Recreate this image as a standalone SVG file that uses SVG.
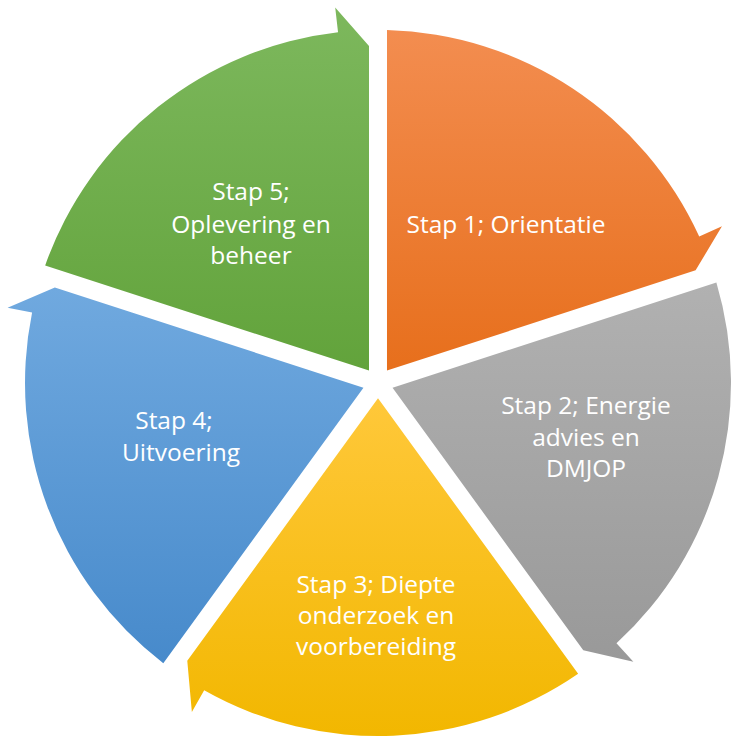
<svg xmlns="http://www.w3.org/2000/svg" width="732" height="743" viewBox="0 0 732 743">
  <style>
    .lbl { font-family: "Open Sans", "Liberation Sans", sans-serif; font-size: 24.5px; fill: #FFFFFF; text-anchor: middle; }
  </style>
  <defs>
    <linearGradient id="gOrange" x1="0" y1="0" x2="0" y2="1">
      <stop offset="0" stop-color="#F38D50"/>
      <stop offset="1" stop-color="#E76F1C"/>
    </linearGradient>
    <linearGradient id="gGray" x1="0" y1="0" x2="0" y2="1">
      <stop offset="0" stop-color="#B1B1B1"/>
      <stop offset="1" stop-color="#999999"/>
    </linearGradient>
    <linearGradient id="gYellow" x1="0" y1="0" x2="0" y2="1">
      <stop offset="0" stop-color="#FFC83A"/>
      <stop offset="1" stop-color="#F2B700"/>
    </linearGradient>
    <linearGradient id="gBlue" x1="0" y1="0" x2="0" y2="1">
      <stop offset="0" stop-color="#70A9DF"/>
      <stop offset="1" stop-color="#478ACB"/>
    </linearGradient>
    <linearGradient id="gGreen" x1="0" y1="0" x2="0" y2="1">
      <stop offset="0" stop-color="#7DB85D"/>
      <stop offset="1" stop-color="#62A33B"/>
    </linearGradient>
  </defs>

  <g id="connectors"></g>

  <g id="step1">
    <path d="M386.99,370.62 L387,30.12 A353,353 0 0 1 699.22,236.61 L721.96,226.25 L695.61,270.34 Z" fill="url(#gOrange)"/>
    <text class="lbl" x="506" y="233">Stap 1; Orientatie</text>
  </g>

  <g id="step2">
    <path d="M392.55,387.73 L716.39,282.51 A353,353 0 0 1 616.48,643.26 L633.37,661.69 L583.29,650.25 Z" fill="url(#gGray)"/>
    <text class="lbl" x="586" y="414">Stap 2; Energie</text>
    <text class="lbl" x="586" y="446">advies en</text>
    <text class="lbl" x="586" y="477">DMJOP</text>
  </g>

  <g id="step3">
    <path d="M378,398.3 L578.14,673.78 A353,353 0 0 1 204.18,690.24 L191.87,712 L187.27,660.83 Z" fill="url(#gYellow)"/>
    <text class="lbl" x="376" y="593">Stap 3; Diepte</text>
    <text class="lbl" x="376" y="624">onderzoek en</text>
    <text class="lbl" x="376" y="655">voorbereiding</text>
  </g>

  <g id="step4">
    <path d="M363.45,387.73 L163.3,663.2 A353,353 0 0 1 32.09,312.62 L7.59,307.64 L54.83,287.46 Z" fill="url(#gBlue)"/>
    <text class="lbl" x="174" y="429">Stap 4;</text>
    <text class="lbl" x="181" y="461">Uitvoering</text>
  </g>

  <g id="step5">
    <path d="M369.01,370.62 L45.17,265.39 A353,353 0 0 1 338.04,32.27 L335.21,7.43 L369,46.12 Z" fill="url(#gGreen)"/>
    <text class="lbl" x="251" y="200">Stap 5;</text>
    <text class="lbl" x="251" y="233">Oplevering en</text>
    <text class="lbl" x="251" y="264">beheer</text>
  </g>
</svg>
